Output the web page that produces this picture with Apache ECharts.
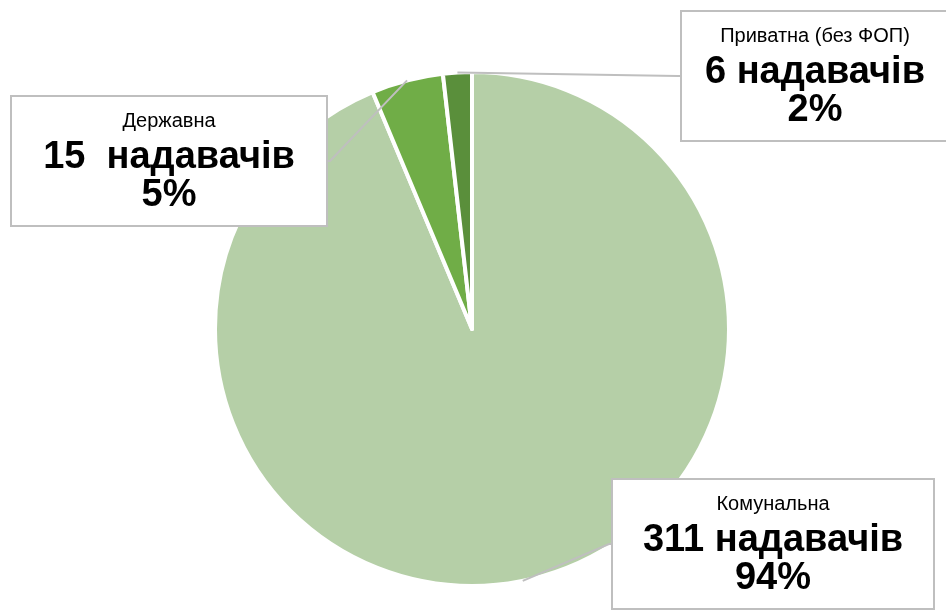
<!DOCTYPE html>
<html>
<head>
<meta charset="utf-8">
<script src="https://cdn.jsdelivr.net/npm/echarts@6/dist/echarts.min.js"></script>
<style>
  html, body { margin: 0; padding: 0; background: #fff; }
  #chart { width: 946px; height: 611px; }
</style>
</head>
<body>
<div id="chart"></div>
<script>
const categories = ['Комунальна', 'Державна', 'Приватна (без ФОП)'];
const counts = [311, 15, 6];
const countTexts = ['311 надавачів', '15  надавачів', '6 надавачів'];
const colors = ['#b5cfa7', '#70ad47', '#5a8f3b'];

// label box placement (center x, top, width) in px
const boxes = [
  { x: 773, y: 480, w: 320 },
  { x: 169, y: 97, w: 314 },
  { x: 815, y: 12, w: 266 }
];

const total = counts.reduce((a, b) => a + b, 0);

const chart = echarts.init(document.getElementById('chart'));

chart.setOption({
  animation: false,
  series: [{
    type: 'pie',
    center: [472, 329],
    radius: [0, 257],
    startAngle: 90,
    clockwise: true,
    itemStyle: { borderColor: '#fff', borderWidth: 4 },
    label: {
      show: true,
      position: 'outside',
      backgroundColor: '#fff',
      borderColor: '#bfbfbf',
      borderWidth: 2,
      padding: [6, 8, 10, 8],
      align: 'center',
      fontFamily: 'Liberation Sans, Arial, sans-serif',
      formatter: p => {
        const pct = Math.round(p.value / total * 100);
        return '{n|' + p.name + '}\n{v|' + countTexts[p.dataIndex] + '}\n{v|' + pct + '%}';
      },
      rich: {
        n: { fontSize: 20, color: '#000', lineHeight: 36, align: 'center', fontFamily: 'Liberation Sans, Arial, sans-serif' },
        v: { fontSize: 38, fontWeight: 'bold', color: '#000', lineHeight: 38, align: 'center', fontFamily: 'Liberation Sans, Arial, sans-serif' }
      }
    },
    labelLine: {
      show: true,
      showAbove: true,
      length: 2,
      length2: 2,
      lineStyle: { color: '#bfbfbf', width: 2 }
    },
    labelLayout: params => {
      const b = boxes[params.dataIndex];
      return {
        x: b.x,
        y: b.y,
        width: b.w - 16,
        align: 'center',
        verticalAlign: 'top'
      };
    },
    data: categories.map((name, i) => ({
      name,
      value: counts[i],
      itemStyle: { color: colors[i] }
    }))
  }]
});

window.addEventListener('resize', () => chart.resize());
</script>
</body>
</html>
